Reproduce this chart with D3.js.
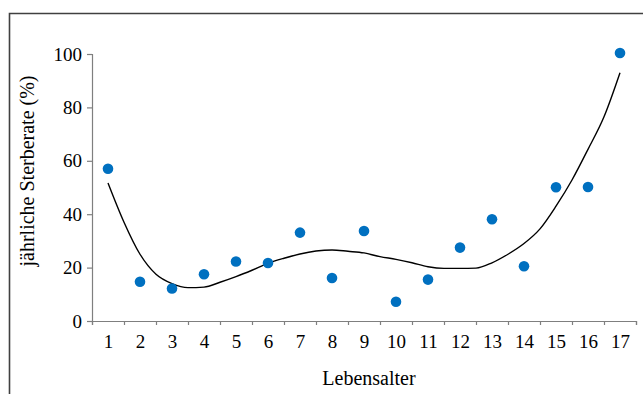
<!DOCTYPE html>
<html>
<head>
<meta charset="utf-8">
<script src="https://cdn.jsdelivr.net/npm/d3@7"></script>
<style>
  body { margin: 0; background: #fff; }
  svg { display: block; }
  .axis text { font-family: "Liberation Serif", "Times New Roman", serif; fill: #000; }
</style>
</head>
<body>
<div id="chart"></div>
<script>
// Lebensalter 1..17
var ages = [1, 2, 3, 4, 5, 6, 7, 8, 9, 10, 11, 12, 13, 14, 15, 16, 17];
// jaehrliche Sterberate (%) per Lebensalter
var rates = [57, 14.7, 12.2, 17.5, 22.3, 21.7, 33.1, 16.1, 33.7, 7.2, 15.5, 27.5, 38.1, 20.5, 50.1, 50.2, 100.4];
// trend line at half steps
var trendAges = [1, 1.5, 2, 2.5, 3, 3.5, 4, 4.5, 5, 5.5, 6, 6.5, 7, 7.5, 8, 8.5, 9,
                 9.5, 10, 10.5, 11, 11.5, 12, 12.5, 13, 13.5, 14, 14.5, 15, 15.5, 16, 16.5, 17];
var trendRates = [51.7, 37, 25, 17.5, 14, 12.5, 12.7, 14.5, 16.6, 19, 21.6, 23.5, 25.1, 26.2, 26.6, 26.1, 25.5,
                  24.1, 23.1, 21.8, 20.3, 19.7, 19.7, 19.8, 21.8, 25, 29, 34.5, 43, 52.8, 64.3, 76.5, 93];
var yTicks = [0, 20, 40, 60, 80, 100];

var width = 643, height = 394;
var margin = { left: 92, right: 7, top: 54, bottom: 73 };

var svg = d3.select("#chart").append("svg")
    .attr("width", width)
    .attr("height", height);

// outer frame (only left and top edges are inside the picture)
svg.append("path")
    .attr("d", "M9.5," + height + "V13.5H" + width)
    .attr("fill", "none")
    .attr("stroke", "#404040")
    .attr("stroke-width", 1.6);

var x = d3.scaleLinear()
    .domain([0.5, ages.length + 0.5])
    .range([margin.left, width - margin.right]);

var y = d3.scaleLinear()
    .domain([0, 100])
    .range([height - margin.bottom, margin.top]);

// y axis
var yAxis = svg.append("g")
    .attr("class", "axis")
    .attr("transform", "translate(" + margin.left + ",0)")
    .call(d3.axisLeft(y).tickValues(yTicks).tickSize(5).tickPadding(5));
yAxis.selectAll("text").style("font-size", "19px");

// x axis: tick marks between categories, labels at the centres
var xTickMarks = d3.range(0.5, ages.length + 1, 1);
var xAxis = svg.append("g")
    .attr("class", "axis")
    .attr("transform", "translate(0," + y(0) + ")")
    .call(d3.axisBottom(x).tickValues(xTickMarks).tickSize(4).tickFormat(""));

var xLabels = svg.append("g")
    .attr("class", "axis")
    .attr("transform", "translate(0," + y(0) + ")")
    .call(d3.axisBottom(x).tickValues(ages).tickSize(0).tickPadding(14).tickFormat(d3.format("d")));
xLabels.select(".domain").remove();
xLabels.selectAll("text").style("font-size", "19px");

svg.selectAll(".axis .domain, .axis line")
    .attr("stroke", "#7f7f7f")
    .attr("stroke-width", 1.2);

// axis titles
svg.append("text")
    .attr("x", 369)
    .attr("y", 385)
    .attr("text-anchor", "middle")
    .style("font-family", "'Liberation Serif', 'Times New Roman', serif")
    .style("font-size", "20px")
    .text("Lebensalter");

svg.append("text")
    .attr("transform", "translate(34,171) rotate(-90)")
    .attr("text-anchor", "middle")
    .style("font-family", "'Liberation Serif', 'Times New Roman', serif")
    .style("font-size", "20px")
    .text("jährliche Sterberate (%)");

// trend line
var line = d3.line()
    .x(function(d, i) { return x(trendAges[i]); })
    .y(function(d) { return y(d); })
    .curve(d3.curveMonotoneX);

svg.append("path")
    .datum(trendRates)
    .attr("d", line)
    .attr("fill", "none")
    .attr("stroke", "#000")
    .attr("stroke-width", 1.4);

// data points
svg.selectAll(".dot")
    .data(rates)
    .enter().append("circle")
    .attr("class", "dot")
    .attr("cx", function(d, i) { return x(ages[i]); })
    .attr("cy", function(d) { return y(d); })
    .attr("r", 5.3)
    .attr("fill", "#0070c0");
</script>
</body>
</html>
